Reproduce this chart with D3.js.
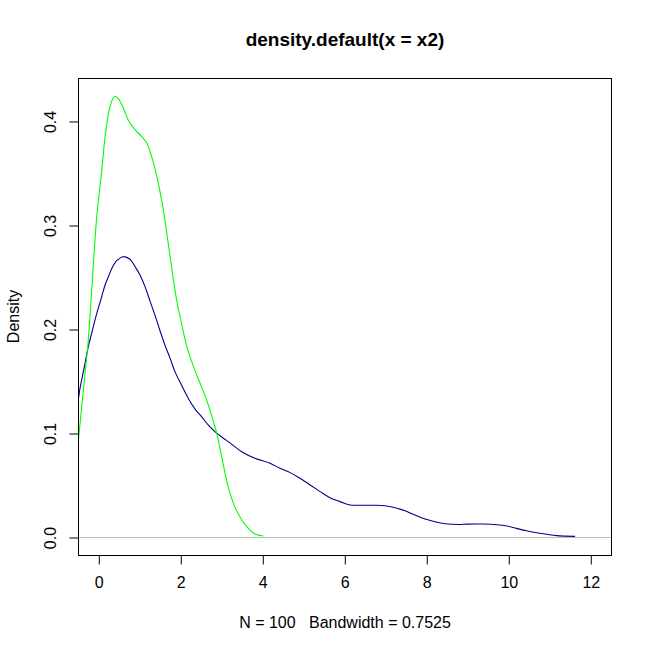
<!DOCTYPE html>
<html>
<head>
<meta charset="utf-8">
<script src="https://cdn.jsdelivr.net/npm/d3@7"></script>
<style>
  html, body { margin: 0; padding: 0; background: #fff; }
  text { font-family: "Liberation Sans", Arial, sans-serif; fill: #000; }
</style>
</head>
<body>
<script>
// ---- data ----
const titleText = "density.default(x = x2)";
const subText = "N = 100   Bandwidth = 0.7525";
const yLabel = "Density";
const xTicks = [0, 2, 4, 6, 8, 10, 12];
const yTicks = [0.0, 0.1, 0.2, 0.3, 0.4];
const yTickLabels = ["0.0", "0.1", "0.2", "0.3", "0.4"];

const greenX = [-0.495, -0.405, -0.324, -0.244, -0.16, -0.08, -0.04, 0.017, 0.083, 0.163, 0.244, 0.327, 0.407, 0.488, 0.61, 0.73, 0.895, 1.06, 1.18, 1.30, 1.42, 1.55, 1.63, 1.75, 1.91, 2.03, 2.16, 2.32, 2.48, 2.64, 2.77, 2.89, 3.01, 3.17, 3.33, 3.50, 3.66, 3.82, 4.02];
const greenY = [0.089, 0.125, 0.157, 0.189, 0.2375, 0.286, 0.307, 0.329, 0.352, 0.384, 0.406, 0.419, 0.4237, 0.4215, 0.4125, 0.401, 0.3917, 0.385, 0.379, 0.366, 0.348, 0.323, 0.3035, 0.27, 0.228, 0.2055, 0.183, 0.164, 0.148, 0.132, 0.116, 0.0997, 0.077, 0.048, 0.029, 0.0163, 0.0083, 0.0029, 0.001];

const blueX = [-0.495, -0.45, -0.405, -0.324, -0.244, -0.16, -0.08, 0.0, 0.083, 0.163, 0.244, 0.327, 0.45, 0.61, 0.773, 0.895, 1.017, 1.14, 1.26, 1.38, 1.50, 1.63, 1.75, 1.87, 2.03, 2.20, 2.36, 2.52, 2.68, 2.85, 3.05, 3.17, 3.50, 3.82, 4.19, 4.43, 4.68, 4.92, 5.17, 5.41, 5.65, 5.90, 6.14, 6.38, 6.71, 6.99, 7.24, 7.48, 7.72, 7.97, 8.21, 8.46, 8.8, 8.99, 9.39, 9.72, 9.96, 10.2, 10.45, 10.69, 10.94, 11.18, 11.63];
const blueY = [0.13, 0.142, 0.151, 0.167, 0.183, 0.196, 0.2087, 0.22, 0.231, 0.242, 0.25, 0.258, 0.2657, 0.2695, 0.267, 0.26, 0.252, 0.2407, 0.227, 0.2135, 0.199, 0.184, 0.172, 0.159, 0.146, 0.133, 0.123, 0.1157, 0.1077, 0.101, 0.095, 0.0917, 0.082, 0.0757, 0.0709, 0.066, 0.0619, 0.0564, 0.05, 0.0436, 0.0378, 0.034, 0.0308, 0.0305, 0.0305, 0.0301, 0.0282, 0.0253, 0.0212, 0.0173, 0.0147, 0.0128, 0.0120, 0.0124, 0.0125, 0.0118, 0.0106, 0.0083, 0.006, 0.0041, 0.0026, 0.0013, 0.0006];

const xDomain = [-0.495, 12.53];
const yDomain = [-0.0173, 0.4413];

// ---- layout ----
const W = 653, H = 653;
const L = 78, R = 612, T = 78, B = 555;

const svg = d3.select("body").append("svg")
  .attr("width", W).attr("height", H)
  .style("display", "block");
svg.append("rect").attr("width", W).attr("height", H).attr("fill", "#fff");

const x = d3.scaleLinear().domain(xDomain).range([L, R]);
const y = d3.scaleLinear().domain(yDomain).range([B, T]);

svg.append("defs").append("clipPath").attr("id", "clip")
  .append("rect").attr("x", L).attr("y", T).attr("width", R - L).attr("height", B - T);

const plot = svg.append("g").attr("clip-path", "url(#clip)");

// zero line
plot.append("line")
  .attr("x1", L).attr("x2", R)
  .attr("y1", Math.round(y(0)) + 0.5).attr("y2", Math.round(y(0)) + 0.5)
  .attr("stroke", "#bebebe").attr("stroke-width", 1);

const line = d3.line().x(d => x(d[0])).y(d => y(d[1])).curve(d3.curveCatmullRom.alpha(0.5));

plot.append("path")
  .datum(blueX.map((v, i) => [v, blueY[i]]))
  .attr("d", line).attr("fill", "none").attr("stroke", "#00008b").attr("stroke-width", 1.1);

plot.append("path")
  .datum(greenX.map((v, i) => [v, greenY[i]]))
  .attr("d", line).attr("fill", "none").attr("stroke", "#00ff00").attr("stroke-width", 1.1);

// box
svg.append("rect")
  .attr("x", L + 0.5).attr("y", T + 0.5)
  .attr("width", R - L - 1).attr("height", B - T)
  .attr("fill", "none").attr("stroke", "#000").attr("stroke-width", 1);

// x axis
const xAxis = d3.axisBottom(x).tickValues(xTicks).tickSize(9).tickPadding(12)
  .tickFormat(d3.format("d"));
const gx = svg.append("g").attr("transform", `translate(0.5,${B + 0.5})`).call(xAxis);
gx.select(".domain").attr("d", `M${x(xTicks[0])},0H${x(xTicks[xTicks.length - 1])}`);
gx.selectAll("text").attr("font-size", 16).attr("font-family", "Liberation Sans, Arial, sans-serif").attr("fill", "#000");
gx.selectAll("line, path").attr("stroke", "#000");

// y axis
const yAxis = d3.axisLeft(y).tickValues(yTicks).tickSize(9).tickPadding(0)
  .tickFormat((d, i) => yTickLabels[i]);
const gy = svg.append("g").attr("transform", `translate(${L + 0.5},0.5)`).call(yAxis);
gy.select(".domain").attr("d", `M0,${y(yTicks[0])}V${y(yTicks[yTicks.length - 1])}`);
gy.selectAll("line, path").attr("stroke", "#000");
gy.selectAll("text")
  .attr("font-size", 16).attr("font-family", "Liberation Sans, Arial, sans-serif").attr("fill", "#000")
  .attr("x", null).attr("dy", null)
  .attr("text-anchor", "middle")
  .attr("transform", "translate(-23,0) rotate(-90)");

// titles
svg.append("text").attr("x", (L + R) / 2).attr("y", 46)
  .attr("text-anchor", "middle").attr("font-size", 19).attr("font-weight", "bold")
  .text(titleText);

svg.append("text").attr("x", (L + R) / 2).attr("y", 628)
  .attr("text-anchor", "middle").attr("font-size", 16)
  .attr("xml:space", "preserve").style("white-space", "pre")
  .text(subText);

svg.append("text")
  .attr("transform", `translate(18.5,${(T + B) / 2}) rotate(-90)`)
  .attr("text-anchor", "middle").attr("font-size", 16)
  .text(yLabel);
</script>
</body>
</html>
